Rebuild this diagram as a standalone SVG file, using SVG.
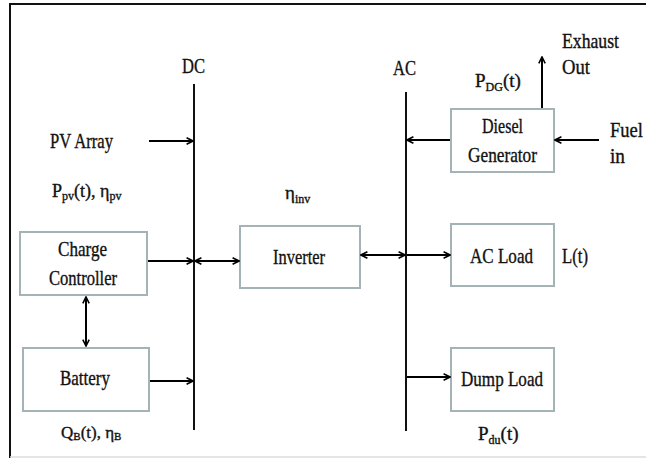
<svg xmlns="http://www.w3.org/2000/svg" width="646" height="458" viewBox="0 0 646 458">
<defs>
<marker id="arr" viewBox="0 0 10 10" refX="9" refY="5" markerWidth="8" markerHeight="8" markerUnits="userSpaceOnUse" orient="auto-start-reverse">
<path d="M1,1 L9,5 L1,9" fill="none" stroke="#000" stroke-width="2"/>
</marker>
</defs>
<style>
text{fill:#111;stroke:#111;stroke-width:0.35px;}
.t{font-size:21px;}
.s{font-size:12px;}
.box{fill:#fff;stroke:#a3b3b6;stroke-width:2;}
.bus{stroke:#111;stroke-width:2;}
.c{stroke:#000;stroke-width:2;fill:none;}
.a{marker-end:url(#arr);}
.b{marker-start:url(#arr);marker-end:url(#arr);}
</style>
<rect width="646" height="458" fill="#fff"/>
<g font-family="'Liberation Serif', 'Times New Roman', serif">
<g id="frame">
<line x1="10" y1="4" x2="646" y2="4" stroke="#111" stroke-width="2"/>
<line x1="10" y1="3" x2="10" y2="458" stroke="#111" stroke-width="2"/>
<line x1="10" y1="457" x2="646" y2="457" stroke="#ddd" stroke-width="1.5"/>
</g>
<g id="dc-bus">
<line class="bus" x1="194" y1="84" x2="194" y2="430"/>
<text class="t" x="182" y="73" textLength="23" lengthAdjust="spacingAndGlyphs">DC</text>
</g>
<g id="ac-bus">
<line class="bus" x1="406" y1="92" x2="406" y2="431"/>
<text class="t" x="393" y="75" textLength="23" lengthAdjust="spacingAndGlyphs">AC</text>
</g>
<g id="pv-array">
<text class="t" x="50" y="148" textLength="63" lengthAdjust="spacingAndGlyphs">PV Array</text>
<text x="52" y="197" font-size="18">P<tspan class="s" dy="3">pv</tspan><tspan dy="-3">(t), η</tspan><tspan class="s" dy="3">pv</tspan></text>
</g>
<g id="charge-controller">
<rect class="box" x="20" y="232" width="127" height="63"/>
<text class="t" x="58" y="256" textLength="49" lengthAdjust="spacingAndGlyphs">Charge</text>
<text class="t" x="49" y="285" textLength="68" lengthAdjust="spacingAndGlyphs">Controller</text>
</g>
<g id="battery">
<rect class="box" x="23" y="348" width="126" height="63"/>
<text class="t" x="60" y="385" textLength="50" lengthAdjust="spacingAndGlyphs">Battery</text>
<text x="61" y="438" font-size="17">Q<tspan font-size="11" dy="2">B</tspan><tspan dy="-2">(t), η</tspan><tspan font-size="11" dy="2">B</tspan></text>
</g>
<g id="inverter">
<rect class="box" x="240" y="226" width="120" height="62"/>
<text class="t" x="273" y="264" textLength="52" lengthAdjust="spacingAndGlyphs">Inverter</text>
<text x="285" y="199" font-size="19">η<tspan class="s" dy="4">inv</tspan></text>
</g>
<g id="diesel-generator">
<rect class="box" x="451" y="109" width="103" height="63"/>
<text class="t" x="482" y="133" textLength="41" lengthAdjust="spacingAndGlyphs">Diesel</text>
<text class="t" x="468" y="162" textLength="69" lengthAdjust="spacingAndGlyphs">Generator</text>
<text x="475" y="87" font-size="19">P<tspan class="s" dy="4">DG</tspan><tspan dy="-4">(t)</tspan></text>
<text class="t" x="562" y="48" textLength="57" lengthAdjust="spacingAndGlyphs">Exhaust</text>
<text class="t" x="562" y="74" textLength="28" lengthAdjust="spacingAndGlyphs">Out</text>
<text class="t" x="610" y="137" textLength="33" lengthAdjust="spacingAndGlyphs">Fuel</text>
<text class="t" x="610" y="163" textLength="15" lengthAdjust="spacingAndGlyphs">in</text>
</g>
<g id="ac-load">
<rect class="box" x="451" y="224" width="103" height="62"/>
<text class="t" x="470" y="263" textLength="63" lengthAdjust="spacingAndGlyphs">AC Load</text>
<text class="t" x="562" y="263" textLength="26" lengthAdjust="spacingAndGlyphs">L(t)</text>
</g>
<g id="dump-load">
<rect class="box" x="451" y="348" width="103" height="63"/>
<text class="t" x="461" y="386" textLength="82" lengthAdjust="spacingAndGlyphs">Dump Load</text>
<text x="478" y="440" font-size="19">P<tspan class="s" dy="4">du</tspan><tspan dy="-4">(t)</tspan></text>
</g>
<g id="connectors">
<line class="c a" x1="149" y1="141" x2="193" y2="141"/>
<line class="c a" x1="148" y1="261" x2="193" y2="261"/>
<line class="c b" x1="195" y1="261" x2="239" y2="261"/>
<line class="c b" x1="86" y1="297" x2="86" y2="346"/>
<line class="c a" x1="150" y1="381" x2="193" y2="381"/>
<line class="c b" x1="361" y1="255" x2="405" y2="255"/>
<line class="c a" x1="407" y1="255" x2="450" y2="255"/>
<line class="c a" x1="407" y1="377" x2="450" y2="377"/>
<line class="c a" x1="450" y1="140" x2="407" y2="140"/>
<line class="c a" x1="599" y1="140" x2="555" y2="140"/>
<line class="c a" x1="542" y1="108" x2="542" y2="57"/>
</g>
</g>
</svg>
